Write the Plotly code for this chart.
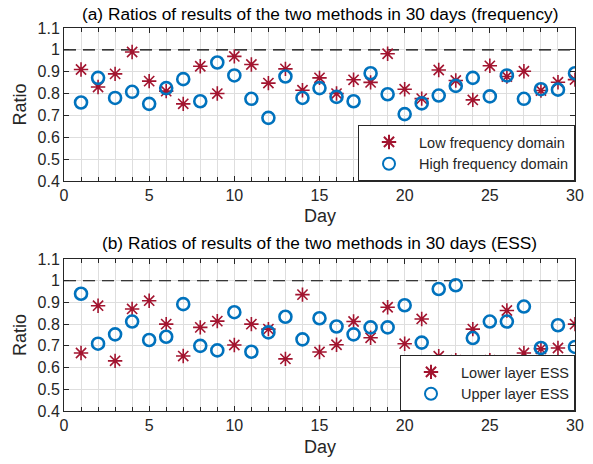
import plotly.graph_objects as go

days = list(range(1, 31))

low_freq = [0.91, 0.83, 0.89, 0.99, 0.857, 0.811, 0.753, 0.925, 0.80, 0.97,
            0.933, 0.848, 0.913, 0.815, 0.872, 0.80, 0.863, 0.851, 0.982, 0.82,
            0.777, 0.908, 0.86, 0.771, 0.927, 0.878, 0.902, 0.814, 0.852, 0.864]
high_freq = [0.759, 0.872, 0.78, 0.808, 0.753, 0.825, 0.866, 0.765, 0.942, 0.883,
             0.776, 0.689, 0.878, 0.78, 0.825, 0.785, 0.765, 0.893, 0.797, 0.706,
             0.755, 0.791, 0.835, 0.872, 0.787, 0.883, 0.776, 0.82, 0.818, 0.893]

lower_ess = [0.667, 0.885, 0.631, 0.87, 0.908, 0.80, 0.653, 0.785, 0.814, 0.704,
             0.80, 0.777, 0.64, 0.936, 0.672, 0.705, 0.812, 0.737, 0.878, 0.71,
             0.824, 0.652, 0.634, 0.777, 0.634, 0.863, 0.667, 0.686, 0.69, 0.80]
upper_ess = [0.94, 0.71, 0.753, 0.812, 0.727, 0.742, 0.892, 0.70, 0.679, 0.855,
             0.673, 0.762, 0.834, 0.73, 0.827, 0.789, 0.753, 0.785, 0.785, 0.887,
             0.715, 0.962, 0.979, 0.736, 0.812, 0.812, 0.881, 0.69, 0.795, 0.695]

y_ticks = [0.4, 0.5, 0.6, 0.7, 0.8, 0.9, 1.0, 1.1]
y_tick_text = ["0.4", "0.5", "0.6", "0.7", "0.8", "0.9", "1", "1.1"]
x_ticks = [0, 5, 10, 15, 20, 25, 30]
reference_ratio = 1.0

titles = ["(a) Ratios of results of the two methods in 30 days (frequency)",
          "(b) Ratios of results of the two methods in 30 days (ESS)"]
names_a = ["Low frequency domain", "High frequency domain"]
names_b = ["Lower layer ESS", "Upper layer ESS"]

RED = "#A2142F"
BLUE = "#0072BD"
FONT = "Liberation Sans, Arial, sans-serif"
AX = "#262626"

W, H = 593, 464
x_dom = [64 / W, 575 / W]
y_dom_a = [1 - 181 / H, 1 - 28 / H]
y_dom_b = [1 - 411 / H, 1 - 259 / H]

fig = go.Figure()

star = dict(symbol="asterisk-open", size=12, color=RED, line=dict(color=RED, width=1.6))
circ = dict(symbol="circle-open", size=12, color=BLUE, line=dict(color=BLUE, width=2.6))

fig.add_trace(go.Scatter(x=days, y=low_freq, mode="markers", name=names_a[0],
                         marker=star, xaxis="x", yaxis="y", legend="legend"))
fig.add_trace(go.Scatter(x=days, y=high_freq, mode="markers", name=names_a[1],
                         marker=circ, xaxis="x", yaxis="y", legend="legend"))
fig.add_trace(go.Scatter(x=days, y=lower_ess, mode="markers", name=names_b[0],
                         marker=star, xaxis="x2", yaxis="y2", legend="legend2"))
fig.add_trace(go.Scatter(x=days, y=upper_ess, mode="markers", name=names_b[1],
                         marker=circ, xaxis="x2", yaxis="y2", legend="legend2"))

for xr, yr in (("x", "y"), ("x2", "y2")):
    fig.add_shape(type="line", xref=xr, yref=yr, x0=x_ticks[0], x1=x_ticks[-1],
                  y0=reference_ratio, y1=reference_ratio,
                  line=dict(color="black", width=1.1, dash="12px,7px"), layer="between")

xaxis_common = dict(range=[0, 30], tickvals=x_ticks, ticks="inside", ticklen=5,
                    tickcolor=AX, showline=True, linecolor=AX, linewidth=1,
                    mirror="ticks", showgrid=True, gridcolor="#dedede", gridwidth=1,
                    zeroline=False, automargin=False,
                    tickfont=dict(size=16, color=AX, family=FONT),
                    minor=dict(dtick=1, ticks="inside", ticklen=4, tickcolor=AX,
                               showgrid=True, gridcolor="#dedede", gridwidth=1),
                    domain=x_dom)
yaxis_common = dict(range=[0.4, 1.1], tickvals=y_ticks, ticktext=y_tick_text,
                    ticks="inside", ticklen=5, tickcolor=AX, showline=True,
                    linecolor=AX, linewidth=1, mirror="ticks", showgrid=True,
                    gridcolor="#dedede", gridwidth=1, zeroline=False, automargin=False,
                    tickfont=dict(size=16, color=AX, family=FONT))

legend_common = dict(xanchor="right", yanchor="bottom", bgcolor="white",
                     bordercolor=AX, borderwidth=1,
                     font=dict(size=14.5, color=AX, family=FONT),
                     tracegroupgap=0, itemsizing="constant", itemwidth=50)

fig.update_layout(
    width=W, height=H,
    margin=dict(l=0, r=0, t=0, b=0),
    paper_bgcolor="white", plot_bgcolor="white",
    font=dict(family=FONT, color=AX),
    xaxis=dict(**xaxis_common, anchor="y"),
    yaxis=dict(**yaxis_common, domain=y_dom_a, anchor="x"),
    xaxis2=dict(**xaxis_common, anchor="y2"),
    yaxis2=dict(**yaxis_common, domain=y_dom_b, anchor="x2"),
    legend=dict(**legend_common, x=x_dom[1], y=y_dom_a[0]),
    legend2=dict(**legend_common, x=x_dom[1], y=y_dom_b[0]),
    showlegend=True,
)

xc = (x_dom[0] + x_dom[1]) / 2
ann = []
ann.append(dict(text=titles[0], x=xc, y=1 - 14 / H, xref="paper", yref="paper",
                showarrow=False, font=dict(size=17.3, family=FONT, color="black"),
                xanchor="center", yanchor="middle"))
ann.append(dict(text=titles[1], x=xc, y=1 - 243 / H, xref="paper", yref="paper",
                showarrow=False, font=dict(size=17.3, family=FONT, color="black"),
                xanchor="center", yanchor="middle"))
for yy in (216, 447):
    ann.append(dict(text="Day", x=xc, y=1 - yy / H, xref="paper", yref="paper",
                    showarrow=False, font=dict(size=18, family=FONT, color=AX),
                    xanchor="center", yanchor="middle"))
for dom in (y_dom_a, y_dom_b):
    ann.append(dict(text="Ratio", x=20 / W, y=(dom[0] + dom[1]) / 2, xref="paper",
                    yref="paper", showarrow=False, textangle=-90,
                    font=dict(size=18, family=FONT, color=AX),
                    xanchor="center", yanchor="middle"))
fig.update_layout(annotations=ann)

fig.write_html("out.html", config={"displayModeBar": False},
               post_script="document.body.style.margin='0';document.body.style.overflow='hidden';")
